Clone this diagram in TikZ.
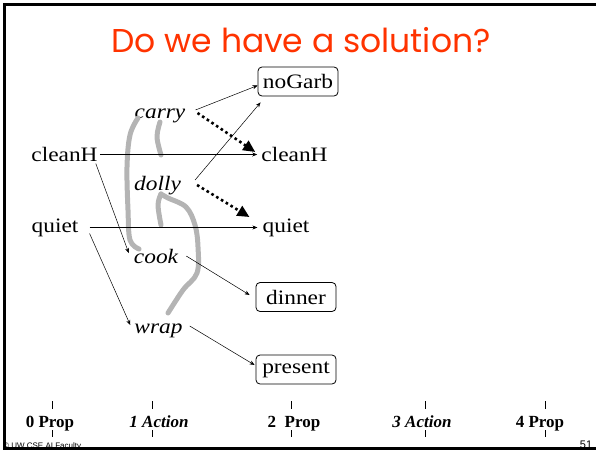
\documentclass[tikz,border=0pt]{standalone}
\usepackage{fontspec}
\newfontfamily\titlefont{Poppins}
\newfontfamily\nodefont[FakeStretch=1.14]{Liberation Serif}
\newfontfamily\stagefont{Liberation Serif}
\newfontfamily\footfont{Liberation Sans}
\usetikzlibrary{arrows.meta}
\definecolor{titlered}{RGB}{255,51,0}
\definecolor{mutexgray}{RGB}{180,180,180}
\begin{document}
\begin{tikzpicture}[x=1pt,y=-1pt,
  lbl/.style={font=\nodefont\fontsize{20.5}{24}\selectfont, inner sep=2pt},
  act/.style={font=\nodefont\fontsize{20.5}{24}\selectfont\itshape, inner sep=2pt},
  goal/.style={font=\nodefont\fontsize{20.5}{24}\selectfont, draw, rounded corners=4pt,
    line width=0.8pt, inner sep=2pt, minimum height=29pt, minimum width=80pt},
  link/.style={-{Stealth[length=5pt,width=4pt]}, line width=0.5pt},
  dotlink/.style={-{Triangle[length=12pt,width=11pt]}, line width=2.6pt,
    dash pattern=on 2.6pt off 3pt},
  mutex/.style={line width=5pt, draw=mutexgray, line cap=round, line join=round},
  stage/.style={font=\stagefont\bfseries\fontsize{17}{20}\selectfont, inner sep=0pt, anchor=base},
  tickmark/.style={line width=0.8pt}]
\useasboundingbox (0,0) rectangle (596,450);

% title
\node[font=\titlefont\fontsize{33}{40}\selectfont, text=titlered, anchor=base] (title) at (301,52) {Do we have a solution?};

% propositions and actions
\node[goal] (noGarb) at (298,81.5) {noGarb};
\node[act] (carry) at (160,116) {carry};
\node[lbl] (cL) at (64.5,154.5) {cleanH};
\node[lbl] (cR) at (294.5,154.5) {cleanH};
\node[act] (dolly) at (157.5,186) {dolly};
\node[lbl] (qL) at (55,227.5) {quiet};
\node[lbl] (qR) at (286,227.5) {quiet};
\node[act] (cook) at (156,256) {cook};
\node[goal] (dinner) at (296,297) {dinner};
\node[act] (wrap) at (158.5,331) {wrap};
\node[goal] (present) at (296,369.5) {present};

% mutex marks
\draw[mutex] plot[smooth, tension=0.6] coordinates {(138,118) (130,135) (127,167) (128,210) (130,240) (139,249)};
\draw[mutex] plot[smooth, tension=0.6] coordinates {(160,122) (157,137) (161,155)};
\draw[mutex] plot[smooth, tension=0.6] coordinates {(161,194) (158,205) (161,225)};
\draw[mutex] plot[smooth, tension=0.6] coordinates {(161,194) (168,198) (186,207) (195,225) (198,247) (197,273) (183,290) (168,313)};

% persistence and effect links
\draw[link] (cL.east) -- ([xshift=-2pt]cR.west);
\draw[link] ([xshift=9pt]qL.east) -- ([xshift=-3pt]qR.west);
\draw[link] ([xshift=-4pt,yshift=-9pt]cL.east) -- ([xshift=-3pt,yshift=3pt]cook.west);
\draw[link] ([xshift=9pt,yshift=-6pt]qL.east) -- ([xshift=-2pt,yshift=6pt]wrap.west);
\draw[link] ([xshift=8pt,yshift=6pt]carry.east) -- ([yshift=-4pt]noGarb.west);
\draw[link] ([xshift=12pt,yshift=6pt]dolly.east) -- ([xshift=3pt,yshift=-6pt]noGarb.south west);
\draw[link] ([xshift=6pt]cook.east) -- ([xshift=-6pt,yshift=2pt]dinner.west);
\draw[link] ([xshift=5pt,yshift=5pt]wrap.east) -- ([xshift=-1pt,yshift=4.5pt]present.west);
\draw[dotlink] ([xshift=10pt,yshift=3pt]carry.east) -- ([xshift=-4pt,yshift=2.5pt]cR.west);
\draw[dotlink] ([xshift=14pt,yshift=1pt]dolly.east) -- ([xshift=-11pt,yshift=10.5pt]qR.west);

% stage labels and tick marks
\node[stage] (s0) at (50,427) {0 Prop};
\node[stage] (s1) at (159,427) {\itshape 1 Action};
\node[stage] (s2) at (294,427) {2\ \ Prop};
\node[stage] (s3) at (422,427) {\itshape 3 Action};
\node[stage] (s4) at (540,427) {4 Prop};
\foreach \x in {52,152,291,425,545} {
  \draw[tickmark] (\x,401) -- (\x,408.5);
  \draw[tickmark] (\x,430) -- (\x,437);
}

% footer
\node[font=\footfont\fontsize{8}{9}\selectfont, anchor=west, inner sep=0pt] (foot) at (3,446) {© UW CSE AI Faculty};
\node[font=\footfont\fontsize{11}{12}\selectfont, inner sep=0pt] (pnum) at (586,445) {51};

% frame
\draw[line width=3pt] (596,4) -- (4,4) -- (4,448.5) -- (596,448.5);
\end{tikzpicture}
\end{document}
